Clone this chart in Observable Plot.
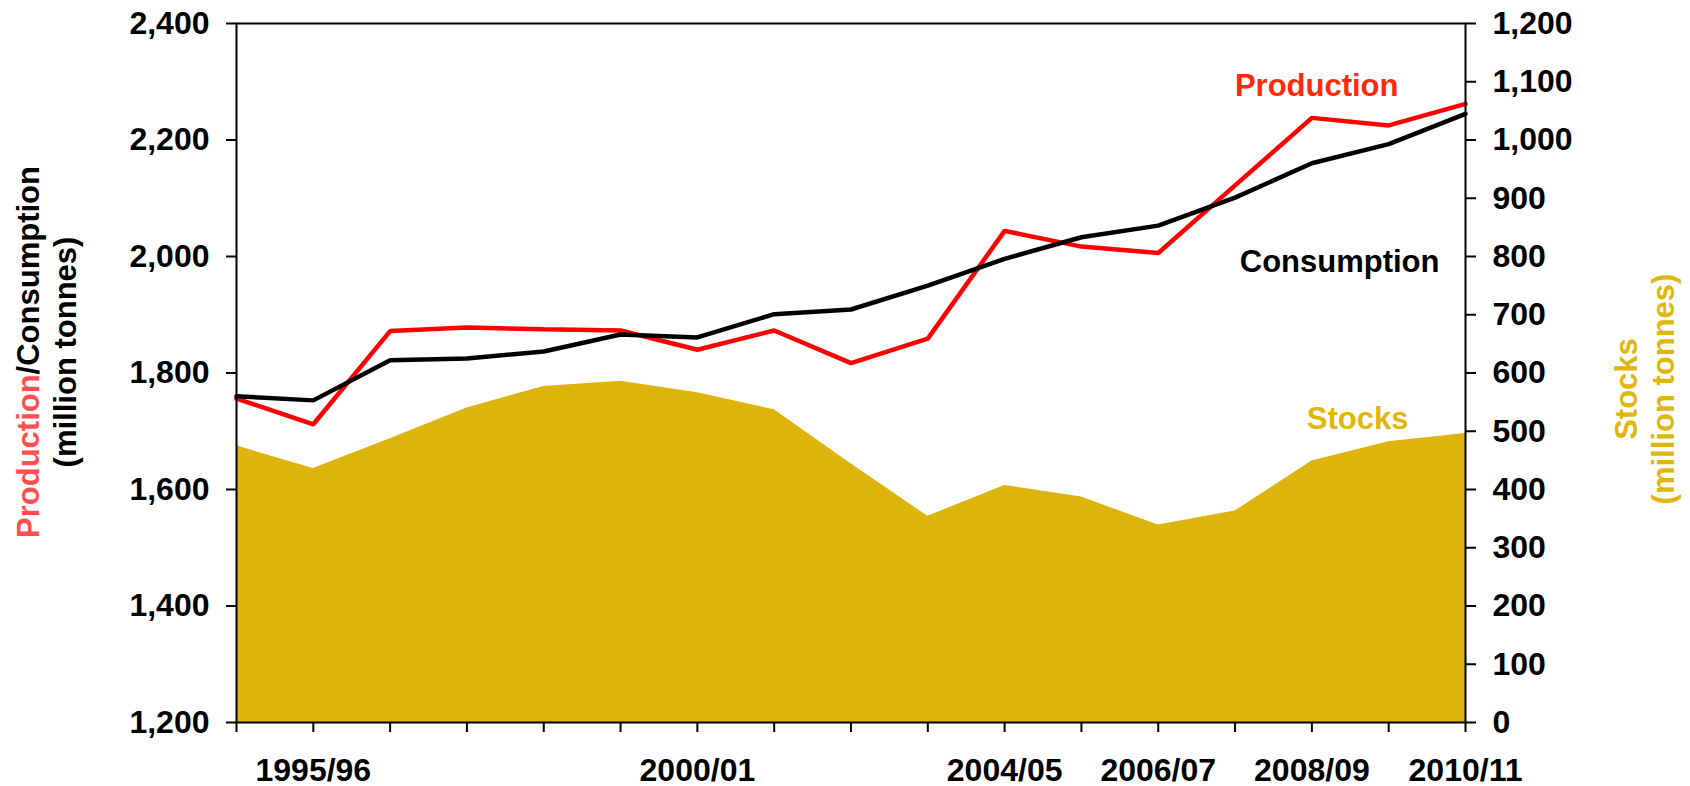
<!DOCTYPE html>
<html>
<head>
<meta charset="utf-8">
<script src="https://cdn.jsdelivr.net/npm/d3@7"></script>
<script src="https://cdn.jsdelivr.net/npm/@observablehq/plot@0.6"></script>
<style>
  html, body { margin: 0; padding: 0; background: #fff; }
  #chart { width: 1690px; height: 786px; }
</style>
</head>
<body>
<div id="chart"></div>
<script>
// ---- Data ----
const years = ["1994/95","1995/96","1996/97","1997/98","1998/99","1999/00","2000/01","2001/02","2002/03","2003/04","2004/05","2005/06","2006/07","2007/08","2008/09","2009/10","2010/11"];
const production  = [1756, 1712, 1872, 1878, 1875, 1873, 1840, 1873, 1817, 1859, 2044, 2017, 2006, 2122, 2238, 2225, 2262];
const consumption = [1760, 1753, 1822, 1825, 1837, 1866, 1861, 1901, 1909, 1950, 1996, 2033, 2053, 2101, 2160, 2193, 2245];
const stocks      = [475, 436, 487, 540, 577, 586, 566, 537, 444, 354, 407, 387, 339, 363, 449, 482, 496];
const labelledYears = ["1995/96","2000/01","2004/05","2006/07","2008/09","2010/11"];
const leftTicks  = [1200, 1400, 1600, 1800, 2000, 2200, 2400];
const rightTicks = [0, 100, 200, 300, 400, 500, 600, 700, 800, 900, 1000, 1100, 1200];

// right axis (stocks) shares the pixel range of the left axis: stocks 0..1200 <-> 1200..2400
const leftMin = 1200;
const rows = years.map((y, i) => ({i, year: y, production: production[i], consumption: consumption[i], stocks: stocks[i]}));
const idx = years.map((y, i) => i);

const FONT = "'Liberation Sans', Arial, Helvetica, sans-serif";
const fmt = d3.format(",");

const W = 1690, H = 786, ML = 236, MR = 225, MT = 23, MB = 64;

const chart = Plot.plot({
  width: W,
  height: H,
  marginLeft: ML,
  marginRight: MR,
  marginTop: MT,
  marginBottom: MB,
  style: {fontFamily: FONT, fontSize: "32px", fontWeight: "bold", color: "#000", background: "#fff", overflow: "visible"},
  x: {type: "linear", domain: [0, years.length - 1], inset: 0},
  y: {type: "linear", domain: [1200, 2400], inset: 0},
  marks: [
    Plot.areaY(rows, {x: "i", y1: leftMin, y2: d => d.stocks + leftMin, fill: "#DCB40B", curve: "linear"}),
    Plot.lineY(rows, {x: "i", y: "production", stroke: "#FF0000", strokeWidth: 4.5, strokeLinejoin: "miter"}),
    Plot.lineY(rows, {x: "i", y: "consumption", stroke: "#000000", strokeWidth: 4.5, strokeLinejoin: "miter"}),
    Plot.frame({stroke: "#000", strokeWidth: 2}),
    Plot.axisY({anchor: "left", ticks: leftTicks, tickFormat: fmt, tickSize: 10, tickPadding: 17, strokeWidth: 2, label: null}),
    Plot.axisY({anchor: "right", ticks: rightTicks.map(v => v + leftMin), tickFormat: d => fmt(d - leftMin), tickSize: 10, tickPadding: 17, strokeWidth: 2, label: null}),
    Plot.axisX({ticks: idx, tickFormat: i => labelledYears.includes(years[i]) ? years[i] : "", tickSize: 10, tickPadding: 26, strokeWidth: 2, label: null}),
    Plot.text(["Production"], {frameAnchor: "top-right", text: d => d, textAnchor: "end", lineAnchor: "bottom", dx: -67, dy: 72, fill: "#FF2A0A", fontSize: 31, fontWeight: "bold"}),
    Plot.text(["Consumption"], {frameAnchor: "top-right", text: d => d, textAnchor: "end", lineAnchor: "bottom", dx: -26, dy: 248, fill: "#000", fontSize: 31, fontWeight: "bold"}),
    Plot.text(["Stocks"], {frameAnchor: "top-right", text: d => d, textAnchor: "end", lineAnchor: "bottom", dx: -57, dy: 405, fill: "#DFB60C", fontSize: 31, fontWeight: "bold"})
  ]
});

document.getElementById("chart").appendChild(chart);

// Axis titles (rotated)
const svg = d3.select(chart);
const t1 = svg.append("text")
  .attr("transform", "translate(39,352) rotate(-90)")
  .attr("text-anchor", "middle")
  .attr("font-family", FONT).attr("font-size", 31).attr("font-weight", "bold");
t1.append("tspan").attr("fill", "#FF5050").text("Production");
t1.append("tspan").attr("fill", "#000").text("/Consumption");
svg.append("text")
  .attr("transform", "translate(76,352) rotate(-90)")
  .attr("text-anchor", "middle")
  .attr("font-family", FONT).attr("font-size", 31).attr("font-weight", "bold")
  .attr("fill", "#000").text("(million tonnes)");

svg.append("text")
  .attr("transform", "translate(1637,389) rotate(-90)")
  .attr("text-anchor", "middle")
  .attr("font-family", FONT).attr("font-size", 31).attr("font-weight", "bold")
  .attr("fill", "#DFB60C").text("Stocks");
svg.append("text")
  .attr("transform", "translate(1674,389) rotate(-90)")
  .attr("text-anchor", "middle")
  .attr("font-family", FONT).attr("font-size", 31).attr("font-weight", "bold")
  .attr("fill", "#DFB60C").text("(million tonnes)");
</script>
</body>
</html>
